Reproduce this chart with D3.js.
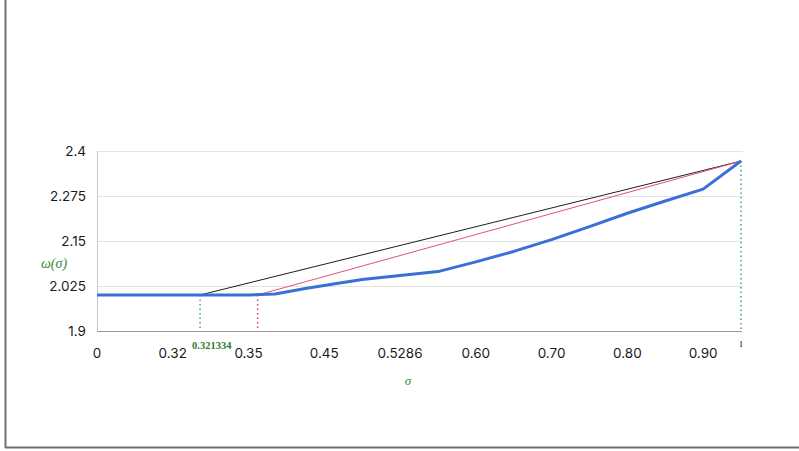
<!DOCTYPE html>
<html>
<head>
<meta charset="utf-8">
<script src="https://cdn.jsdelivr.net/npm/d3@7"></script>
<style>
  html, body { margin: 0; padding: 0; background: #fff; }
  svg { display: block; }
</style>
</head>
<body>
<svg id="chart" width="799" height="451"></svg>
<script>
// ---- data ----
const xTickLabels = ["0", "0.32", "0.35", "0.45", "0.5286", "0.60", "0.70", "0.80", "0.90"];
const xTickPos = [0, 1, 2, 3, 4, 5, 6, 7, 8];
const yTicks = [1.9, 2.025, 2.15, 2.275, 2.4];
const yTickLabels = ["1.9", "2.025", "2.15", "2.275", "2.4"];

// omega(sigma) curve (x in axis-slot units)
const blueX = [0, 2.0, 2.35, 2.75, 3.1, 3.5, 4.5, 5.0, 5.5, 6.0, 6.5, 7.0, 7.5, 8.0, 8.5];
const blueY = [2.0, 2.0, 2.003, 2.018, 2.03, 2.043, 2.065, 2.092, 2.121, 2.154, 2.19, 2.227, 2.261, 2.294, 2.372];

// chords
const blackX = [1.36, 8.5];
const blackY = [2.0, 2.372];
const redX = [2.12, 8.5];
const redY = [2.0, 2.372];

// vertical markers
const markerX = [1.36, 2.12, 8.5];
const markerY = [2.0, 2.0, 2.372];
const markerColors = ["#3aa6a6", "#e8405e", "#3aa68a"];
const markerLabels = ["0.321334", "", "1"];

// ---- drawing ----
const svg = d3.select("#chart");
const x = d3.scaleLinear().domain([0, 8.5]).range([97, 741]);
const y = d3.scaleLinear().domain([1.9, 2.4]).range([331, 151]);

// frame
svg.append("line").attr("x1", 5.5).attr("x2", 5.5).attr("y1", 0).attr("y2", 448)
  .attr("stroke", "#707070").attr("stroke-width", 2);
svg.append("line").attr("x1", 5).attr("x2", 799).attr("y1", 447.5).attr("y2", 447.5)
  .attr("stroke", "#707070").attr("stroke-width", 2);

// gridlines
svg.append("g").selectAll("line").data(yTicks.slice(1)).join("line")
  .attr("x1", x(0)).attr("x2", x(8.5) + 2)
  .attr("y1", d => Math.round(y(d)) + 0.5).attr("y2", d => Math.round(y(d)) + 0.5)
  .attr("stroke", "#e3e3e3").attr("stroke-width", 1);

// y axis line
svg.append("line").attr("x1", x(0) + 0.5).attr("x2", x(0) + 0.5)
  .attr("y1", y(2.4)).attr("y2", y(1.9))
  .attr("stroke", "#c8c8c8").attr("stroke-width", 1);
// x axis line
svg.append("line").attr("x1", x(0)).attr("x2", x(8.5) + 1)
  .attr("y1", Math.round(y(1.9)) + 0.5).attr("y2", Math.round(y(1.9)) + 0.5)
  .attr("stroke", "#9a9a9a").attr("stroke-width", 1.2);

// y tick labels
svg.append("g").selectAll("text").data(yTicks).join("text")
  .attr("x", 86).attr("y", d => y(d) + 5)
  .attr("text-anchor", "end")
  .attr("font-family", "Inter, 'Liberation Sans', sans-serif")
  .attr("font-size", 13.5).attr("fill", "#1a1a1a")
  .text((d, i) => yTickLabels[i]);

// x tick labels
svg.append("g").selectAll("text").data(xTickPos).join("text")
  .attr("x", d => x(d)).attr("y", 358)
  .attr("text-anchor", "middle")
  .attr("font-family", "Inter, 'Liberation Sans', sans-serif")
  .attr("font-size", 13.5).attr("fill", "#1a1a1a")
  .text((d, i) => xTickLabels[i]);

// markers (dotted verticals)
svg.append("g").selectAll("line").data(markerX).join("line")
  .attr("x1", d => x(d)).attr("x2", d => x(d))
  .attr("y1", (d, i) => y(markerY[i])).attr("y2", y(1.9))
  .attr("stroke", (d, i) => markerColors[i]).attr("stroke-width", 1.5)
  .attr("stroke-dasharray", "1.5,3");

// chords
const lineGen = d3.line().x(d => x(d[0])).y(d => y(d[1]));
svg.append("path").datum(blackX.map((v, i) => [v, blackY[i]]))
  .attr("d", lineGen).attr("fill", "none").attr("stroke", "#1e1e1e").attr("stroke-width", 1);
svg.append("path").datum(redX.map((v, i) => [v, redY[i]]))
  .attr("d", lineGen).attr("fill", "none").attr("stroke", "#e6506c").attr("stroke-width", 1);

// main curve
svg.append("path").datum(blueX.map((v, i) => [v, blueY[i]]))
  .attr("d", lineGen).attr("fill", "none").attr("stroke", "#3a6fd8")
  .attr("stroke-width", 3).attr("stroke-linejoin", "round");

// green marker labels
svg.append("text").attr("x", x(markerX[0]) - 8).attr("y", 349)
  .attr("font-family", "'Liberation Serif', 'DejaVu Serif', serif")
  .attr("font-size", 10.5).attr("font-weight", "bold").attr("fill", "#2e7d32")
  .text(markerLabels[0]);
svg.append("text").attr("x", x(markerX[2])).attr("y", 347)
  .attr("text-anchor", "middle")
  .attr("font-family", "'Liberation Serif', 'DejaVu Serif', serif")
  .attr("font-size", 8).attr("font-weight", "bold").attr("fill", "#2e7d32")
  .text(markerLabels[2]);

// axis titles
svg.append("text").attr("x", 54).attr("y", 268)
  .attr("text-anchor", "middle")
  .attr("font-family", "'Liberation Serif', 'DejaVu Serif', serif")
  .attr("font-size", 14).attr("font-style", "italic").attr("fill", "#3a8a3a")
  .text("ω(σ)");
svg.append("text").attr("x", 408).attr("y", 385)
  .attr("text-anchor", "middle")
  .attr("font-family", "'Liberation Serif', 'DejaVu Serif', serif")
  .attr("font-size", 13).attr("font-style", "italic").attr("fill", "#3a8a3a")
  .text("σ");
</script>
</body>
</html>
